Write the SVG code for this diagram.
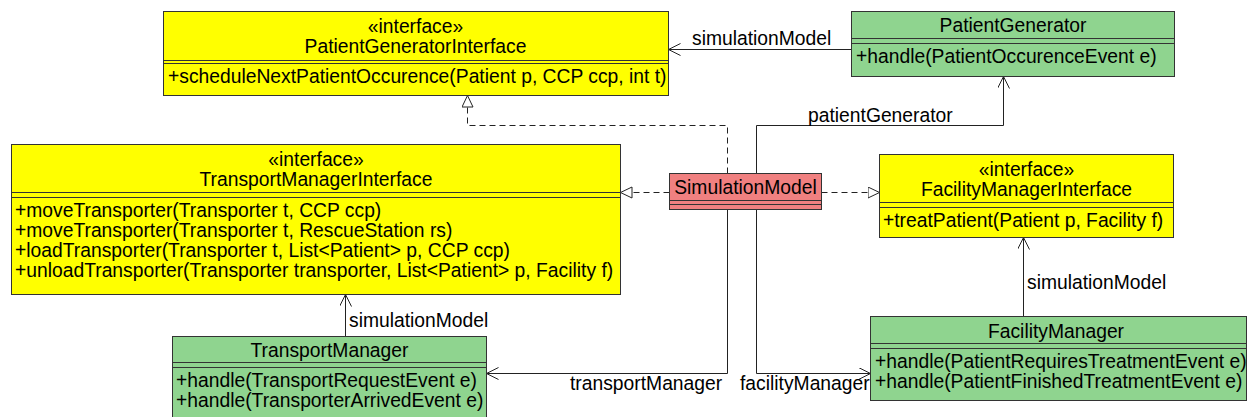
<svg xmlns="http://www.w3.org/2000/svg" width="1248" height="417" viewBox="0 0 1248 417">
<style>
text{font-family:"Liberation Sans",Arial,sans-serif;font-size:19.3px;fill:#000}
.c{text-anchor:middle}
.box{stroke:#333;stroke-width:1}
.y{fill:#ffff00}
.g{fill:#8fd48f}
.r{fill:#f08080}
.div{stroke:#333;stroke-width:1}
.edge{fill:none;stroke:#222;stroke-width:1}
.dash{stroke-dasharray:6 4}
</style>
<defs>
<marker id="open" markerUnits="userSpaceOnUse" markerWidth="14" markerHeight="14" refX="12" refY="6" orient="auto">
<path d="M0,0 L12,6 L0,12" fill="none" stroke="#222" stroke-width="1"/>
</marker>
<marker id="tri" markerUnits="userSpaceOnUse" markerWidth="14" markerHeight="14" refX="12" refY="6" orient="auto">
<path d="M0.5,0.5 L12,6 L0.5,11.5 Z" fill="#fff" stroke="#222" stroke-width="1"/>
</marker>
</defs>

<g id="connectors">
<polyline class="edge" points="851.5,49.5 668.5,49.5" marker-end="url(#open)"/>
<polyline class="edge" points="756.5,173.5 756.5,125.5 1003.5,125.5 1003.5,76.5" marker-end="url(#open)"/>
<polyline class="edge dash" points="727.5,173.5 727.5,125.5 467.5,125.5 467.5,95.5" marker-end="url(#tri)"/>
<polyline class="edge dash" points="669.5,192.5 620.5,192.5" marker-end="url(#tri)"/>
<polyline class="edge dash" points="821.5,192.5 879.5,192.5" marker-end="url(#tri)"/>
<polyline class="edge" points="727.5,209.5 727.5,373.5 486.5,373.5" marker-end="url(#open)"/>
<polyline class="edge" points="756.5,209.5 756.5,373.5 870.5,373.5" marker-end="url(#open)"/>
<polyline class="edge" points="1023.5,316.5 1023.5,237.5" marker-end="url(#open)"/>
<polyline class="edge" points="345.5,336.5 345.5,294.5" marker-end="url(#open)"/>
<text x="692" y="45">simulationModel</text>
<text x="808" y="122">patientGenerator</text>
<text x="349" y="327">simulationModel</text>
<text x="1027" y="289">simulationModel</text>
<text x="570" y="390">transportManager</text>
<text x="740" y="390">facilityManager</text>
</g>

<g id="PatientGeneratorInterface">
<rect class="box y" x="163.5" y="11.5" width="505" height="84"/>
<line class="div" x1="163.5" y1="60.5" x2="668.5" y2="60.5"/>
<line class="div" x1="163.5" y1="63.5" x2="668.5" y2="63.5"/>
<text class="c" x="415.5" y="33">«interface»</text>
<text class="c" x="415.5" y="53">PatientGeneratorInterface</text>
<text x="168" y="83">+scheduleNextPatientOccurence(Patient p, CCP ccp, int t)</text>
</g>

<g id="PatientGenerator">
<rect class="box g" x="851.5" y="11.5" width="323" height="65"/>
<line class="div" x1="851.5" y1="38.5" x2="1174.5" y2="38.5"/>
<line class="div" x1="851.5" y1="43.5" x2="1174.5" y2="43.5"/>
<text class="c" x="1013" y="32">PatientGenerator</text>
<text x="856" y="63">+handle(PatientOccurenceEvent e)</text>
</g>

<g id="TransportManagerInterface">
<rect class="box y" x="11.5" y="144.5" width="609" height="150"/>
<line class="div" x1="11.5" y1="192.5" x2="620.5" y2="192.5"/>
<line class="div" x1="11.5" y1="197.5" x2="620.5" y2="197.5"/>
<text class="c" x="316" y="166">«interface»</text>
<text class="c" x="316" y="186">TransportManagerInterface</text>
<text x="15" y="217">+moveTransporter(Transporter t, CCP ccp)</text>
<text x="15" y="237">+moveTransporter(Transporter t, RescueStation rs)</text>
<text x="15" y="257">+loadTransporter(Transporter t, List&lt;Patient&gt; p, CCP ccp)</text>
<text x="15" y="277">+unloadTransporter(Transporter transporter, List&lt;Patient&gt; p, Facility f)</text>
</g>

<g id="SimulationModel">
<rect class="box r" x="669.5" y="173.5" width="152" height="36"/>
<line class="div" x1="669.5" y1="200.5" x2="821.5" y2="200.5"/>
<line class="div" x1="669.5" y1="204.5" x2="821.5" y2="204.5"/>
<text class="c" x="745.5" y="194">SimulationModel</text>
</g>

<g id="FacilityManagerInterface">
<rect class="box y" x="879.5" y="154.5" width="294" height="83"/>
<line class="div" x1="879.5" y1="202.5" x2="1173.5" y2="202.5"/>
<line class="div" x1="879.5" y1="207.5" x2="1173.5" y2="207.5"/>
<text class="c" x="1026.5" y="176">«interface»</text>
<text class="c" x="1026.5" y="196">FacilityManagerInterface</text>
<text x="883" y="227">+treatPatient(Patient p, Facility f)</text>
</g>

<g id="TransportManager">
<rect class="box g" x="172.5" y="336.5" width="314" height="90"/>
<line class="div" x1="172.5" y1="362.5" x2="486.5" y2="362.5"/>
<line class="div" x1="172.5" y1="367.5" x2="486.5" y2="367.5"/>
<text class="c" x="329.5" y="357">TransportManager</text>
<text x="176" y="387">+handle(TransportRequestEvent e)</text>
<text x="176" y="407">+handle(TransporterArrivedEvent e)</text>
</g>

<g id="FacilityManager">
<rect class="box g" x="870.5" y="316.5" width="376" height="84"/>
<line class="div" x1="870.5" y1="343.5" x2="1246.5" y2="343.5"/>
<line class="div" x1="870.5" y1="348.5" x2="1246.5" y2="348.5"/>
<text class="c" x="1056" y="338">FacilityManager</text>
<text x="875" y="368">+handle(PatientRequiresTreatmentEvent e)</text>
<text x="875" y="388">+handle(PatientFinishedTreatmentEvent e)</text>
</g>
</svg>
